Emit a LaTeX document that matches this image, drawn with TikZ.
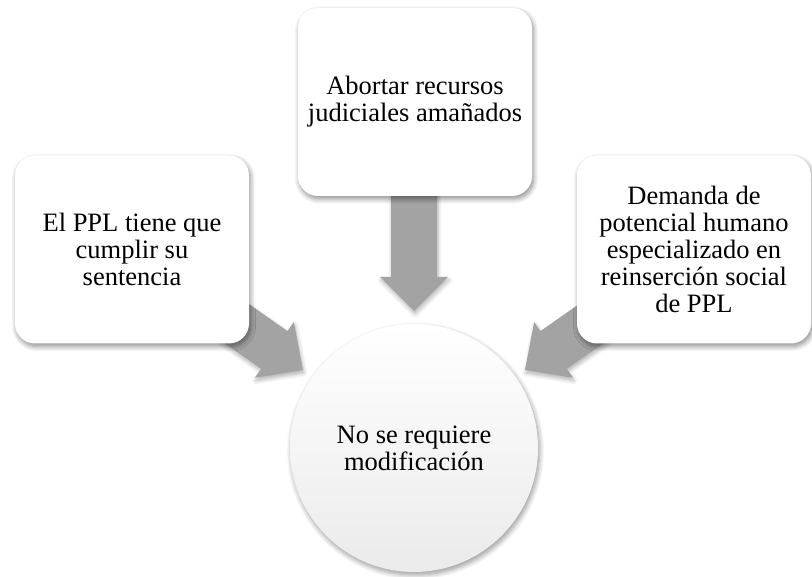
\documentclass[tikz,border=0pt]{standalone}
\usepackage{fontspec}
\setmainfont{Liberation Serif}
\usetikzlibrary{shadows.blur}
\definecolor{arrowgray}{RGB}{163,163,163}
\begin{document}
\begin{tikzpicture}[x=1pt,y=1pt,
  box/.style={fill=white, rounded corners=20pt, minimum width=234pt, minimum height=188pt,
    inner sep=0pt, align=center, font=\fontsize{26.5}{26.8}\selectfont,
    blur shadow={shadow xshift=1.5pt, shadow yshift=-3pt, shadow blur steps=8, shadow blur radius=5pt, shadow opacity=45}},
  hub/.style={circle, minimum size=248pt, inner sep=0pt, align=center,
    top color=white, bottom color=black!8, font=\fontsize{26.5}{26.8}\selectfont,
    blur shadow={shadow xshift=1.5pt, shadow yshift=-3pt, shadow blur steps=8, shadow blur radius=5pt, shadow opacity=40}},
  fatarrow/.style={fill=arrowgray,
    blur shadow={shadow xshift=1pt, shadow yshift=-3pt, shadow blur steps=6, shadow blur radius=4pt, shadow opacity=30}}
]
\useasboundingbox (0,0) rectangle (812,577);

% arrow tips
\coordinate (tipT) at (414,266);
\coordinate (tipL) at (303,207);
\coordinate (tipR) at (525,207);

% arrows (drawn first, boxes hide their tails)
\begin{scope}[shift={(tipT)}, rotate=-90]
  \path[fatarrow] (0,0) -- (-34,34) -- (-34,23) -- (-150,23) -- (-150,-23) -- (-34,-23) -- (-34,-34) -- cycle;
\end{scope}
\begin{scope}[shift={(tipL)}, rotate=-35]
  \path[fatarrow] (0,0) -- (-35,34) -- (-35,23) -- (-150,23) -- (-150,-23) -- (-35,-23) -- (-35,-34) -- cycle;
\end{scope}
\begin{scope}[shift={(tipR)}, rotate=215]
  \path[fatarrow] (0,0) -- (-35,34) -- (-35,23) -- (-150,23) -- (-150,-23) -- (-35,-23) -- (-35,-34) -- cycle;
\end{scope}

% boxes
\node[box] (top) at (415,475) {Abortar recursos\\judiciales amañados};
\node[box] (left) at (132,327.5) {El PPL tiene que\\cumplir su\\sentencia};
\node[box] (right) at (694,327.5) {Demanda de\\potencial humano\\especializado en\\reinserción social\\de PPL};

% hub
\node[hub] (hub) at (414,129) {No se requiere\\modificación};
\end{tikzpicture}
\end{document}
